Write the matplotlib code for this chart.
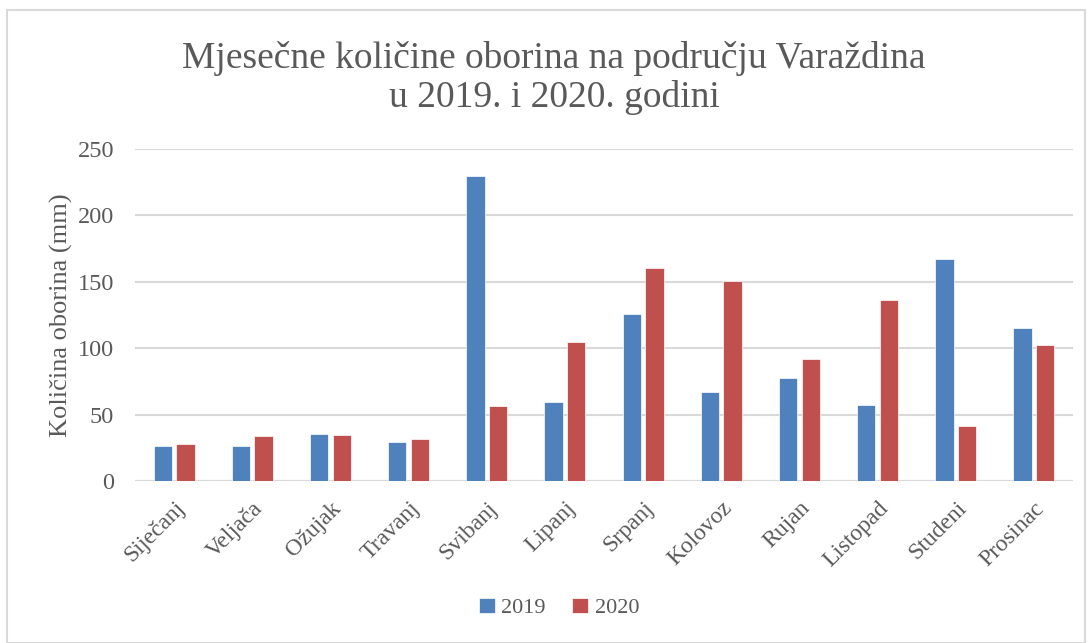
import matplotlib
matplotlib.use("Agg")
import matplotlib.pyplot as plt
import numpy as np
from matplotlib.patches import Rectangle

months = ["Siječanj", "Veljača", "Ožujak", "Travanj", "Svibanj", "Lipanj",
          "Srpanj", "Kolovoz", "Rujan", "Listopad", "Studeni", "Prosinac"]
v2019 = [26.1, 26.0, 35.4, 29.1, 230.0, 59.8, 125.5, 67.0, 77.9, 57.5, 167.5, 115.5]
v2020 = [27.6, 34.2, 34.7, 31.4, 56.5, 105.0, 160.7, 150.4, 91.6, 136.0, 41.2, 102.4]
series_labels = ["2019", "2020"]
yticks = [0, 50, 100, 150, 200, 250]

plt.rcParams['font.family'] = ['Liberation Serif', 'DejaVu Serif']
txt = '#595959'

W, H = 1092, 643
fig = plt.figure(figsize=(W/100, H/100), dpi=100)
ax = fig.add_axes([135/W, 1-481/H, (1073-135)/W, (481-149)/H])

x = np.arange(len(months))
bw = 0.235
off = 0.145
ax.bar(x - off, v2019, bw, color='#4F81BD', edgecolor='white', linewidth=0.5, label=series_labels[0], zorder=3)
ax.bar(x + off, v2020, bw, color='#C0504D', edgecolor='white', linewidth=0.5, label=series_labels[1], zorder=3)

ax.set_xlim(-0.5, len(months) - 0.5)
ax.set_ylim(0, 250)
ax.set_yticks(yticks)
ax.set_yticklabels([str(t) for t in yticks], fontsize=17.5, color=txt)
ax.yaxis.grid(True, color='#D9D9D9', linewidth=1.5, zorder=0)
ax.set_xticks(x)
ax.set_xticklabels(months, rotation=45, ha='right', va='top', rotation_mode='anchor', fontsize=17, color=txt)
ax.tick_params(axis='y', length=0, pad=15)
ax.tick_params(axis='x', length=0, pad=12)
for s in ax.spines.values():
    s.set_visible(False)
ax.axhline(0, color='#D9D9D9', linewidth=1.5, zorder=1)

ax.set_ylabel("Količina oborina (mm)", fontsize=19, color=txt, labelpad=3)

fig.text(554/W, 1-78/H, "Mjesečne količine oborina na području Varaždina\nu 2019. i 2020. godini",
         ha='center', va='center', fontsize=27, color=txt, linespacing=1.15)

leg = fig.legend(loc='center', bbox_to_anchor=(559/W, 1-608/H), ncol=2, frameon=False,
                 fontsize=16, handlelength=0.7, handleheight=0.7, handletextpad=0.3, columnspacing=1.2)
for t in leg.get_texts():
    t.set_color(txt)

fig.patches.append(Rectangle((7/W, 0), (1085-7)/W, 1-10/H, transform=fig.transFigure,
                             fill=False, edgecolor='#D9D9D9', linewidth=1.5))

fig.savefig("out.png", dpi=100)
